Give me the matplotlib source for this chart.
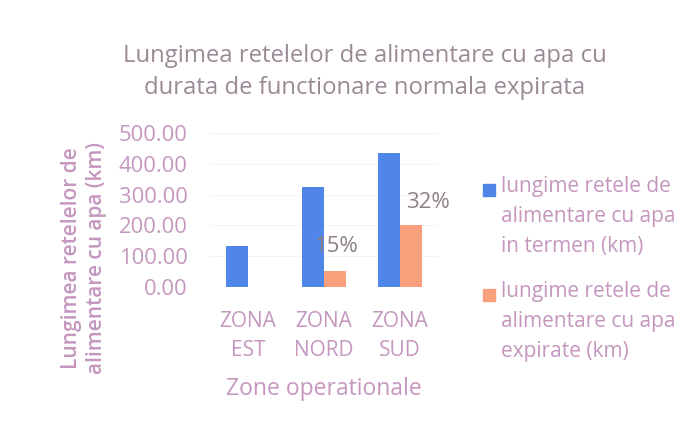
import matplotlib.pyplot as plt
import numpy as np
from matplotlib.patches import Rectangle

ZONES = ["ZONA\nEST", "ZONA\nNORD", "ZONA\nSUD"]
IN_TERMEN = [133.0, 325.0, 435.0]
EXPIRATE = [0.0, 52.0, 201.0]
PCT_LABELS = ["", "15%", "32%"]
Y_TICKS = [0, 100, 200, 300, 400, 500]

LEGEND_LABELS = [
    "lungime retele de\nalimentare cu apa\nin termen (km)",
    "lungime retele de\nalimentare cu apa\nexpirate (km)",
]

BLUE = "#4f86e8"
ORANGE = "#f8a07c"
PINK = "#c597bf"
TITLE_GREY = "#9a8a96"
LABEL_GREY = "#8e8089"

plt.rcParams["font.family"] = ["Open Sans", "DejaVu Sans"]

fig = plt.figure(figsize=(6.94, 4.28), dpi=100)
ax = fig.add_axes([210 / 694, 1 - 287 / 428, 228 / 694, 154 / 428])

x = np.arange(len(ZONES))
w = 0.29
ax.bar(x - w / 2, IN_TERMEN, width=w, color=BLUE, zorder=2)
ax.bar(x + w / 2, EXPIRATE, width=w, color=ORANGE, zorder=2)

# percent labels sit a bit right of / above the orange bars
label_dx = [0.0, 0.03, 0.22]
label_dy = [0.0, 78.0, 72.0]
for i, txt in enumerate(PCT_LABELS):
    if txt:
        ax.text(x[i] + w / 2 + label_dx[i], EXPIRATE[i] + label_dy[i], txt,
                ha="center", va="center", fontsize=16, color=LABEL_GREY, zorder=3)

ax.set_xlim(-0.5, 2.5)
ax.set_ylim(0, 500)
ax.set_yticks(Y_TICKS)
ax.set_yticklabels([f"{v:.2f}" for v in Y_TICKS])
ax.set_xticks(x)
ax.set_xticklabels(ZONES, linespacing=1.55)
ax.tick_params(axis="y", length=0, labelsize=15.8, colors=PINK, pad=16)
ax.tick_params(axis="x", length=0, labelsize=15, colors=PINK, pad=17)
ax.grid(axis="y", color="#f3f3f3", linewidth=0.8, zorder=0)
for s in ax.spines.values():
    s.set_visible(False)

ax.set_xlabel("Zone operationale", fontsize=16.5, color=PINK, labelpad=11)
fig.text(84 / 694, 1 - 258 / 428, "Lungimea retelelor de\nalimentare cu apa (km)",
         rotation=90, ha="center", va="center", fontsize=15, color=PINK,
         linespacing=1.3, fontweight="semibold")

fig.text(365 / 694, 1 - 72 / 428,
         "Lungimea retelelor de alimentare cu apa cu\ndurata de functionare normala expirata",
         ha="center", va="center", fontsize=17.2, color=TITLE_GREY, linespacing=1.45)

# legend drawn by hand so the swatch lines up with the first text line
for j, (lab, col) in enumerate(zip(LEGEND_LABELS, [BLUE, ORANGE])):
    ytop = 1 - (185 + j * 105) / 428
    fig.patches.append(Rectangle((483 / 694, ytop - 11 / 428), 12 / 694, 12 / 428,
                                 transform=fig.transFigure, color=col))
    fig.text(501 / 694, ytop + 9 / 428, lab, ha="left", va="top",
             fontsize=15, color=PINK, linespacing=1.55)

fig.savefig("out.png", dpi=100)
